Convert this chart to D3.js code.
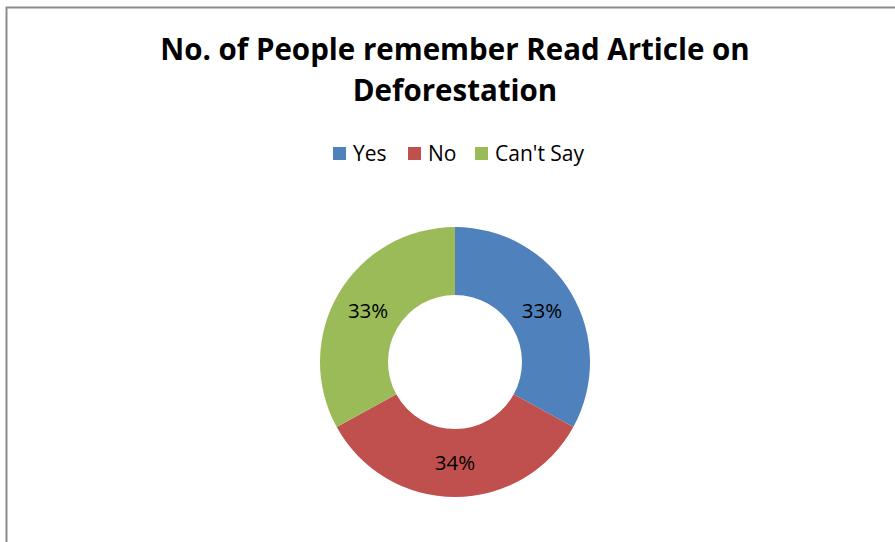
<!DOCTYPE html>
<html>
<head>
<meta charset="utf-8">
<script src="https://cdn.jsdelivr.net/npm/d3@7"></script>
<style>
  html, body { margin: 0; padding: 0; background: #fff; }
  svg { display: block; }
</style>
</head>
<body>
<svg id="chart" width="895" height="542"></svg>
<script>
// Survey responses (percent of respondents)
const categories = ["Yes", "No", "Can't Say"];
const values = [33, 34, 33];
const colors = ["#4F81BD", "#C0504D", "#9BBB59"];
const titleLines = ["No. of People remember Read Article on", "Deforestation"];

const svg = d3.select("#chart");
const W = 895, H = 542;
const font = "'Open Sans', sans-serif";

// Chart area frame
svg.append("rect")
  .attr("x", 6.5).attr("y", 7.5)
  .attr("width", W + 20).attr("height", H + 20)
  .attr("fill", "#fff")
  .attr("stroke", "#8c8c8c")
  .attr("stroke-width", 2);

// Title
const title = svg.append("text")
  .attr("text-anchor", "middle")
  .attr("font-family", font)
  .attr("font-weight", "bold")
  .attr("font-size", 29.5)
  .attr("fill", "#000");
titleLines.forEach((t, i) => {
  title.append("tspan").attr("x", 455).attr("y", 60 + i * 41).text(t);
});

// Legend
const legend = svg.append("g").attr("font-family", font).attr("font-size", 21);
const legendX = [333, 408, 475];
categories.forEach((c, i) => {
  const g = legend.append("g").attr("transform", `translate(${legendX[i]},0)`);
  g.append("rect").attr("x", 0).attr("y", 147).attr("width", 13).attr("height", 13).attr("fill", colors[i]);
  g.append("text").attr("x", 20).attr("y", 161).attr("fill", "#000").text(c);
});

// Donut
const cx = 455, cy = 362, outerR = 135, innerR = 67;
const pie = d3.pie().sort(null).value(d => d.value);
const arc = d3.arc().innerRadius(innerR).outerRadius(outerR);
const data = categories.map((c, i) => ({ name: c, value: values[i], color: colors[i] }));
const total = d3.sum(values);

const g = svg.append("g").attr("transform", `translate(${cx},${cy})`);
const arcs = pie(data);
g.selectAll("path")
  .data(arcs)
  .join("path")
  .attr("d", arc)
  .attr("fill", d => d.data.color);

g.selectAll("text.lbl")
  .data(arcs)
  .join("text")
  .attr("class", "lbl")
  .attr("transform", d => `translate(${arc.centroid(d)})`)
  .attr("text-anchor", "middle")
  .attr("dy", "0.35em")
  .attr("font-family", font)
  .attr("font-size", 20.5)
  .attr("fill", "#000")
  .text(d => Math.round(d.data.value / total * 100) + "%");
</script>
</body>
</html>
